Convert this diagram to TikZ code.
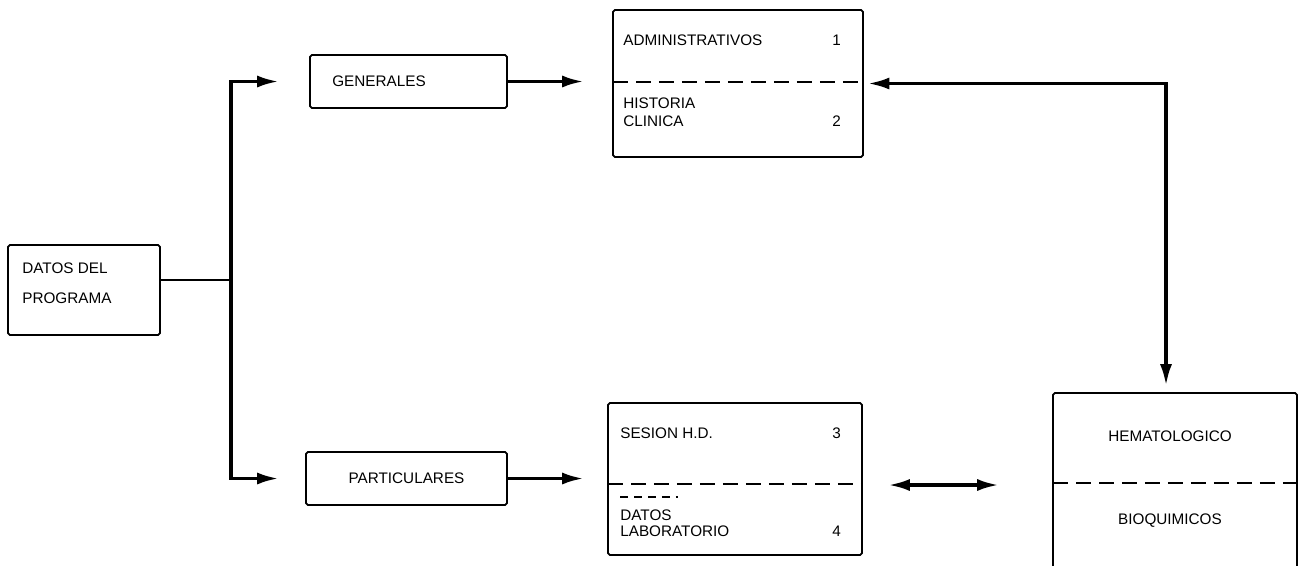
\documentclass[tikz,border=0pt]{standalone}
\usepackage{fontspec}
\setmainfont{Liberation Sans}
\usetikzlibrary{arrows.meta}
\tikzset{>={Latex[length=0.44cm,width=0.24cm]}}
\tikzset{
	caja/.style={draw, line width=1pt, rounded corners=1pt, inner sep=0pt},
	flecha/.style={line width=2.1pt},
	raya/.style={line width=0.6pt, dash pattern=on 0.3cm off 0.16cm},
	texto/.style={anchor=west, inner sep=0pt, font=\fontsize{8.7}{10}\selectfont},
	centro/.style={inner sep=0pt, font=\fontsize{8.7}{10}\selectfont}
}

\begin{document}
\begin{tikzpicture}[x=0.02cm, y=-0.02cm]
				\clip (0,0) rectangle (1302,565);
				\node[caja, minimum width=3.04cm, minimum height=1.8cm] (prog) at (84,290) {};
				\node[caja, minimum width=3.94cm, minimum height=1.06cm] (gen) at (408.5,81.5) {};
				\node[caja, minimum width=4.02cm, minimum height=1.06cm, font=\fontsize{8.7}{10}\selectfont] (part) at (406.5,478.5) {PARTICULARES};
				\node[caja, minimum width=5cm, minimum height=2.94cm] (adm) at (738,83.5) {};
				\node[caja, minimum width=5.08cm, minimum height=3.04cm] (ses) at (735,479) {};
				\node[caja, minimum width=4.88cm, minimum height=3.74cm] (hema) at (1175,486.5) {};
				\footnotesize
				\node[texto] (tdatos) at (22,268) {DATOS DEL};
				\node[texto] (tprog) at (22,298) {PROGRAMA};
				\node[texto] (tgen) at (332,81) {GENERALES};
				\node[texto] (tadm) at (623,40) {ADMINISTRATIVOS};
				\node[texto] (n1) at (832,40) {1};
				\node[texto] (thist) at (623,103) {HISTORIA};
				\node[texto] (tclin) at (623,121) {CLINICA};
				\node[texto] (n2) at (832,121) {2};
				\node[texto] (tses) at (620,433) {SESION H.D.};
				\node[texto] (n3) at (832,433) {3};
				\node[texto] (tdlab) at (620,515) {DATOS};
				\node[texto] (tlab) at (620,531) {LABORATORIO};
				\node[texto] (n4) at (832,531) {4};
				\node[centro] (thema) at (1170,436) {HEMATOLOGICO};
				\node[centro] (tbioq) at (1170,521) {BIOQUIMICOS};
				\draw[raya] (613,82)--(863,82);
				\draw[raya] (608,484)--(862,484);
				\draw[raya, dash pattern=on 0.16cm off 0.12cm] (620,497)--(678,497);
				\draw[raya] (1053,483)--(1297,483);
				\coordinate (rama) at (231,280);
				\draw[line width=0.7pt] (prog.east |- rama)--(rama);
				\draw[flecha,->] (rama) |- ([xshift=-0.6cm]gen.west);
				\draw[flecha,->] (rama) |- ([xshift=-0.52cm]part.west);
				\draw[flecha,->] (gen.east)--([xshift=-0.56cm]adm.west |- gen.east);
				\draw[flecha,->] (part.east)--([xshift=-0.46cm]ses.west |- part.east);
				\draw[flecha,<->, shorten <=2pt, shorten >=0.12cm] (adm.east) -| ([xshift=-0.18cm]hema.north);
				\coordinate (doble) at ([xshift=0.5cm,yshift=-0.12cm]ses.east);
				\draw[flecha,<->] (doble)--([xshift=-1.06cm]hema.west |- doble);
			\end{tikzpicture}
\end{document}
